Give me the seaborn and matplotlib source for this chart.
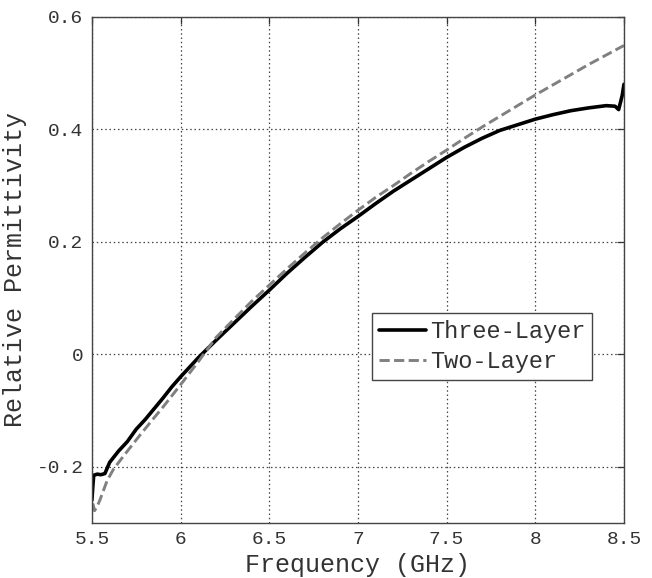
import matplotlib
matplotlib.use("Agg")
import matplotlib.pyplot as plt
import seaborn as sns
import pandas as pd

# Three-Layer (solid black)
freq_three = [5.5, 5.505, 5.51, 5.53, 5.55, 5.573, 5.6, 5.65, 5.7, 5.75, 5.8, 5.85,
              5.9, 5.95, 6.0, 6.1, 6.2, 6.3, 6.4, 6.5, 6.6, 6.7, 6.8, 6.9, 7.0, 7.1, 7.2,
              7.3, 7.4, 7.5, 7.6, 7.7, 7.8, 7.9, 8.0, 8.1, 8.2, 8.3, 8.4, 8.45, 8.47,
              8.49, 8.5]
perm_three = [-0.259, -0.235, -0.215, -0.213, -0.214, -0.212, -0.192, -0.172, -0.155,
              -0.133, -0.116, -0.097, -0.078, -0.058, -0.04, -0.006, 0.025, 0.055, 0.085,
              0.114, 0.144, 0.172, 0.199, 0.223, 0.245, 0.268, 0.29, 0.31, 0.33, 0.35,
              0.368, 0.384, 0.398, 0.408, 0.418, 0.426, 0.433, 0.438, 0.442, 0.441, 0.435,
              0.46, 0.48]

# Two-Layer (dashed gray)
freq_two = [5.505, 5.515, 5.53, 5.545, 5.585, 5.62, 5.68, 5.77, 5.85, 5.9, 5.95,
            6.0, 6.1, 6.2, 6.3, 6.4, 6.5, 6.6, 6.7, 6.8, 6.9, 7.0, 7.1, 7.2, 7.3, 7.4, 7.5,
            7.6, 7.7, 7.8, 7.9, 8.0, 8.1, 8.2, 8.3, 8.4, 8.5]
perm_two = [-0.265, -0.278, -0.27, -0.259, -0.225, -0.205, -0.18, -0.144, -0.113, -0.094,
            -0.074, -0.054, -0.013, 0.03, 0.062, 0.094, 0.123, 0.152, 0.18, 0.207, 0.232,
            0.256, 0.279, 0.3, 0.322, 0.343, 0.363, 0.384, 0.404, 0.423, 0.442, 0.461,
            0.479, 0.497, 0.515, 0.532, 0.549]

x_ticks = [5.5, 6, 6.5, 7, 7.5, 8, 8.5]
x_tick_labels = ["5.5", "6", "6.5", "7", "7.5", "8", "8.5"]
y_ticks = [-0.2, 0, 0.2, 0.4, 0.6]
y_tick_labels = ["-0.2", "0", "0.2", "0.4", "0.6"]

sns.set_style("white")
plt.rcParams["font.family"] = ["Liberation Mono", "DejaVu Sans Mono"]

df3 = pd.DataFrame({"Frequency": freq_three, "Permittivity": perm_three})
df2 = pd.DataFrame({"Frequency": freq_two, "Permittivity": perm_two})

fig = plt.figure(figsize=(6.52, 5.78), dpi=100)
ax = fig.add_axes([0.141, 0.095, 0.816, 0.876])

sns.lineplot(data=df3, x="Frequency", y="Permittivity", ax=ax, color="black",
             linewidth=2.6, label="Three-Layer", sort=False)
sns.lineplot(data=df2, x="Frequency", y="Permittivity", ax=ax, color="#808080",
             linewidth=2.1, label="Two-Layer", sort=False)
ax.lines[1].set_dashes([3.5, 1.5])

ax.set_xlim(5.5, 8.5)
ax.set_ylim(-0.3, 0.6)
ax.set_xticks(x_ticks)
ax.set_xticklabels(x_tick_labels)
ax.set_yticks(y_ticks)
ax.set_yticklabels(y_tick_labels)

ax.grid(True, color="#444444", linestyle=(0, (1.2, 2.2)), linewidth=0.9)
ax.tick_params(direction="in", length=5, width=0.9, top=True, right=True,
               labelsize=14, labelcolor="#333333", color="#333333", pad=6)
for s in ax.spines.values():
    s.set_color("#444444")
    s.set_linewidth(1.0)

ax.set_xlabel("Frequency (GHz)", fontsize=18, color="#333333", labelpad=3)
ax.set_ylabel("Relative Permittivity", fontsize=18, color="#333333", labelpad=7)

leg = ax.legend(loc="upper left", bbox_to_anchor=(0.526, 0.415), borderaxespad=0,
                fontsize=17, frameon=True, fancybox=False, framealpha=1,
                edgecolor="#444444", handlelength=2.0, handletextpad=0.15,
                borderpad=0.3, labelspacing=0.3, labelcolor="#333333")
leg.get_frame().set_linewidth(1.0)

fig.savefig("out.png", dpi=100)
